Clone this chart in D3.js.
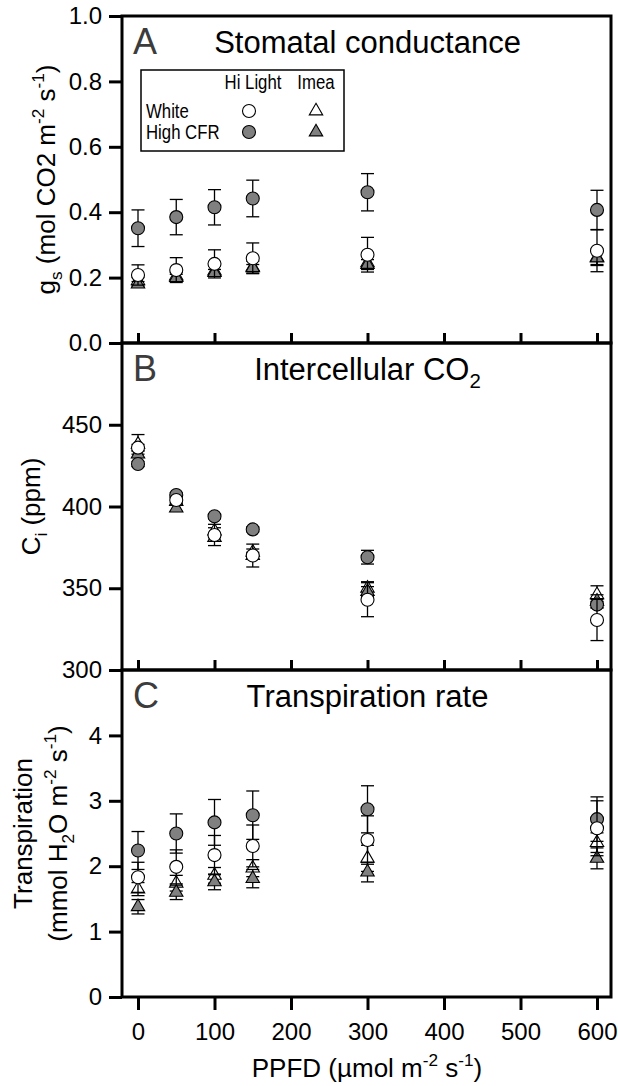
<!DOCTYPE html>
<html><head><meta charset="utf-8">
<script src="https://cdn.jsdelivr.net/npm/d3@7"></script>
<style>body{margin:0;background:#fff}svg{display:block;font-family:Arial,"Liberation Sans",Helvetica,sans-serif}</style>
</head><body><svg id="c" width="618" height="1086"></svg>
<script>
// ---- data ----
const ppfd = [0, 50, 100, 150, 300, 600];
const xTicks = [0, 100, 200, 300, 400, 500, 600];
const seriesNames = ["White / Imea", "High CFR / Imea", "High CFR / Hi Light", "White / Hi Light"];

// Panel A: stomatal conductance (mol CO2 m-2 s-1)
const gsWhiteImea = [0.19, 0.205, 0.22, 0.232, 0.245, 0.262];
const gsWhiteImeaSE = [0.012, 0.012, 0.015, 0.018, 0.02, 0.025];
const gsCfrImea = [0.18, 0.20, 0.215, 0.23, 0.24, 0.26];
const gsCfrImeaSE = [0.008, 0.01, 0.01, 0.01, 0.015, 0.02];
const gsCfrHi = [0.351, 0.385, 0.415, 0.442, 0.461, 0.407];
const gsCfrHiSE = [0.056, 0.054, 0.054, 0.056, 0.057, 0.060];
const gsWhiteHi = [0.208, 0.223, 0.242, 0.259, 0.270, 0.282];
const gsWhiteHiSE = [0.031, 0.038, 0.043, 0.047, 0.053, 0.064];
const gsTicks = [0.0, 0.2, 0.4, 0.6, 0.8, 1.0];

// Panel B: intercellular CO2 (ppm)
const ciWhiteImea = [438, 403, 385, 372, 350, 346];
const ciWhiteImeaSE = [6, 2, 2, 2, 4, 5.5];
const ciCfrImea = [432, 399, 381, 370, 348, 342];
const ciCfrImeaSE = [2, 2, 2, 2, 3, 4];
const ciCfrHi = [426, 407, 394, 386, 369, 340];
const ciCfrHiSE = [1.5, 1.5, 1.5, 1.5, 4.2, 2];
const ciWhiteHi = [436, 404, 382.6, 370, 343, 330.6];
const ciWhiteHiSE = [2, 2, 6.5, 7, 10.4, 12.6];
const ciTicks = [300, 350, 400, 450];

// Panel C: transpiration (mmol H2O m-2 s-1)
const eWhiteImea = [1.65, 1.74, 1.86, 1.97, 2.12, 2.36];
const eWhiteImeaSE = [0.10, 0.12, 0.12, 0.13, 0.20, 0.15];
const eCfrImea = [1.38, 1.60, 1.76, 1.81, 1.91, 2.12];
const eCfrImeaSE = [0.11, 0.11, 0.12, 0.14, 0.15, 0.16];
const eCfrHi = [2.24, 2.50, 2.67, 2.78, 2.87, 2.72];
const eCfrHiSE = [0.29, 0.30, 0.35, 0.37, 0.36, 0.34];
const eWhiteHi = [1.83, 1.99, 2.17, 2.31, 2.40, 2.58];
const eWhiteHiSE = [0.23, 0.26, 0.30, 0.32, 0.37, 0.42];
const eTicks = [0, 1, 2, 3, 4];

// ---- layout ----
const svg = d3.select("#c");
const L = 122, R = 611, PH = 327;
const tops = [16, 343, 670];
const x = d3.scaleLinear().domain([0, 600]).range([138, 597]);
const GRAY = "#808080";
const FS = 24;   // tick labels
const LBS = 26;  // axis titles

const styles = [
  {shape: "tri", fill: "#fff"},
  {shape: "tri", fill: GRAY},
  {shape: "circ", fill: GRAY},
  {shape: "circ", fill: "#fff"}
];
const triPath = d3.symbol().type(d3.symbolTriangle).size(78)();

function marker(g, cx, cy, st) {
  if (st.shape === "circ") {
    g.append("circle").attr("cx", cx).attr("cy", cy).attr("r", 6.5)
      .attr("fill", st.fill).attr("stroke", "#000").attr("stroke-width", 1.1);
  } else {
    g.append("path").attr("d", triPath).attr("transform", `translate(${cx},${cy})`)
      .attr("fill", st.fill).attr("stroke", "#000").attr("stroke-width", 1.1);
  }
}

function richText(sel, parts, fs) {
  let off = 0;
  parts.forEach(p => {
    const ts = sel.append("tspan").text(p.t);
    let target = 0, size = fs;
    if (p.sup) { target = -0.42 * fs; size = fs * 0.66; }
    if (p.sub) { target = 0.25 * fs; size = fs * 0.66; }
    ts.attr("font-size", size).attr("dy", target - off);
    off = target;
  });
}

function panel(i, cfg) {
  const top = tops[i], bot = top + PH;
  const y = d3.scaleLinear().domain(cfg.domain).range([bot, top]);
  const g = svg.append("g");

  // y axis
  const ya = g.append("g").attr("transform", `translate(${L},0)`)
    .call(d3.axisLeft(y).tickValues(cfg.ticks).tickSize(13).tickPadding(7).tickFormat(cfg.fmt));
  ya.select(".domain").remove();
  ya.selectAll(".tick line").attr("stroke", "#000").attr("stroke-width", 3);
  ya.selectAll("text").attr("font-size", FS).attr("fill", "#000").attr("font-family", "Arial, 'Liberation Sans', sans-serif");

  // x axis
  const last = i === 2;
  const xa = g.append("g").attr("transform", `translate(0,${bot})`)
    .call(d3.axisBottom(x).tickValues(xTicks).tickSize(last ? 13 : -10).tickPadding(13)
      .tickFormat(last ? d3.format("d") : ""));
  xa.select(".domain").remove();
  xa.selectAll(".tick line").attr("stroke", "#000").attr("stroke-width", 3);
  xa.selectAll("text").attr("font-size", FS).attr("fill", "#000").attr("font-family", "Arial, 'Liberation Sans', sans-serif");

  // frame
  g.append("rect").attr("x", L).attr("y", top).attr("width", R - L).attr("height", PH)
    .attr("fill", "none").attr("stroke", "#000").attr("stroke-width", 3);

  // letter & title
  g.append("text").attr("x", 133).attr("y", top + 38).attr("font-size", 36).attr("fill", "#3c3c3c").text(cfg.letter);
  const t = g.append("text").attr("x", (L + R) / 2 + 1).attr("y", top + 37).attr("font-size", 31)
    .attr("text-anchor", "middle").attr("fill", "#000");
  richText(t, cfg.title, 31);

  // y label
  const cy = (top + bot) / 2;
  cfg.ylab.forEach(l => {
    const tx = g.append("text").attr("transform", `translate(${l.x},${cy}) rotate(-90)`)
      .attr("text-anchor", "middle").attr("font-size", LBS).attr("fill", "#000");
    richText(tx, l.parts, LBS);
  });

  // data: error bars then markers, series by series
  cfg.series.forEach((s, k) => {
    const sg = g.append("g");
    ppfd.forEach((p, j) => {
      const cx = x(p), v = s.v[j], e = s.se[j];
      const y1 = y(v + e), y2 = y(v - e);
      sg.append("line").attr("x1", cx).attr("x2", cx).attr("y1", y1).attr("y2", y2)
        .attr("stroke", "#000").attr("stroke-width", 1.3);
      [y1, y2].forEach(yy => sg.append("line").attr("x1", cx - 6.5).attr("x2", cx + 6.5)
        .attr("y1", yy).attr("y2", yy).attr("stroke", "#000").attr("stroke-width", 1.3));
      marker(sg, cx, y(v), styles[k]);
    });
  });
}

panel(0, {
  domain: [0, 1], ticks: gsTicks, fmt: d3.format(".1f"), letter: "A",
  title: [{t: "Stomatal conductance"}],
  ylab: [{x: 55, parts: [{t: "g"}, {t: "s", sub: true}, {t: " (mol CO2 m"}, {t: "-2", sup: true}, {t: " s"}, {t: "-1", sup: true}, {t: ")"}]}],
  series: [
    {v: gsWhiteImea, se: gsWhiteImeaSE}, {v: gsCfrImea, se: gsCfrImeaSE},
    {v: gsCfrHi, se: gsCfrHiSE}, {v: gsWhiteHi, se: gsWhiteHiSE}]
});
panel(1, {
  domain: [300, 500], ticks: ciTicks, fmt: d3.format("d"), letter: "B",
  title: [{t: "Intercellular CO"}, {t: "2", sub: true}],
  ylab: [{x: 40, parts: [{t: "C"}, {t: "i", sub: true}, {t: " (ppm)"}]}],
  series: [
    {v: ciWhiteImea, se: ciWhiteImeaSE}, {v: ciCfrImea, se: ciCfrImeaSE},
    {v: ciCfrHi, se: ciCfrHiSE}, {v: ciWhiteHi, se: ciWhiteHiSE}]
});
panel(2, {
  domain: [0, 5], ticks: eTicks, fmt: d3.format("d"), letter: "C",
  title: [{t: "Transpiration rate"}],
  ylab: [{x: 32, parts: [{t: "Transpiration"}]},
         {x: 67, parts: [{t: "(mmol H"}, {t: "2", sub: true}, {t: "O m"}, {t: "-2", sup: true}, {t: " s"}, {t: "-1", sup: true}, {t: ")"}]}],
  series: [
    {v: eWhiteImea, se: eWhiteImeaSE}, {v: eCfrImea, se: eCfrImeaSE},
    {v: eCfrHi, se: eCfrHiSE}, {v: eWhiteHi, se: eWhiteHiSE}]
});

// x label
const xl = svg.append("text").attr("x", 367).attr("y", 1077).attr("text-anchor", "middle")
  .attr("font-size", LBS).attr("fill", "#000");
richText(xl, [{t: "PPFD (µmol m"}, {t: "-2", sup: true}, {t: " s"}, {t: "-1", sup: true}, {t: ")"}], LBS);

// legend (condensed text, as in the original)
const lg = svg.append("g");
lg.append("rect").attr("x", 141).attr("y", 70).attr("width", 203).attr("height", 81)
  .attr("fill", "#fff").attr("stroke", "#000").attr("stroke-width", 1.5);
const LF = 19.5, SQ = 0.86;
const colX = [249, 316];
function ltext(t, tx, ty, anchor) {
  lg.append("text").attr("transform", `translate(${tx},${ty}) scale(${SQ},1)`)
    .attr("text-anchor", anchor).attr("font-size", LF).attr("fill", "#000").text(t);
}
ltext("Hi Light", 253, 89, "middle");
ltext("Imea", 316, 89, "middle");
const rows = [["White", 111, "#fff"], ["High CFR", 132, GRAY]];
rows.forEach(([t, yy, f]) => {
  ltext(t, 146, yy + 6.5, "start");
  marker(lg, colX[0], yy, {shape: "circ", fill: f});
  marker(lg, colX[1], yy, {shape: "tri", fill: f});
});
</script></body></html>
